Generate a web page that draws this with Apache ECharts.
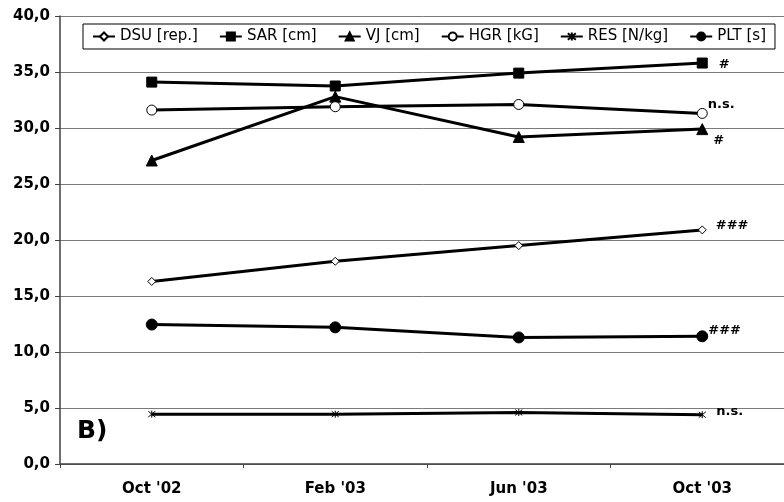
<!DOCTYPE html>
<html>
<head>
<meta charset="utf-8">
<script src="https://cdn.jsdelivr.net/npm/echarts@6/dist/echarts.min.js"></script>
<style>html,body{margin:0;padding:0;background:#fff}#c{width:784px;height:502px}</style>
</head>
<body>
<div id="c"></div>
<script>
var categories = ["Oct '02", "Feb '03", "Jun '03", "Oct '03"];
var dsu = [16.3, 18.1, 19.5, 20.9];
var sar = [34.1, 33.75, 34.9, 35.8];
var vj  = [27.1, 32.8, 29.2, 29.9];
var hgr = [31.6, 31.9, 32.1, 31.3];
var res = [4.45, 4.45, 4.6, 4.4];
var plt = [12.45, 12.2, 11.3, 11.4];
var seriesNames = ['DSU [rep.]', 'SAR [cm]', 'VJ [cm]', 'HGR [kG]', 'RES [N/kg]', 'PLT [s]'];
var significance = ['###', '#', '#', 'n.s.', 'n.s.', '###'];
var yTicks = [0, 5, 10, 15, 20, 25, 30, 35, 40];

var asterisk = 'path://M0,0L10,10M10,0L0,10M5,-1L5,11';
var values = [dsu, sar, vj, hgr, res, plt];
var symbols = ['diamond', 'rect', 'triangle', 'circle', asterisk, 'circle'];
var sizes = [8, 10, 11, 10, 7, 11];
var fills = ['#fff', '#000', '#000', '#fff', '#fff', '#000'];
var labelOffsets = [[4, -4], [6, 2], [0, 12], [-5, -9], [5, -3], [-5, -6]];

var chart = echarts.init(document.getElementById('c'), null, {renderer: 'canvas'});
var series = values.map(function (arr, i) {
  var data = arr.map(function (v, j) {
    if (j === arr.length - 1) {
      return {
        value: v,
        label: {
          show: true, position: 'right', formatter: significance[i],
          offset: labelOffsets[i], color: '#000', fontWeight: 'bold', fontSize: 13,
          fontFamily: 'DejaVu Sans'
        }
      };
    }
    return v;
  });
  return {
    name: seriesNames[i], type: 'line', data: data,
    symbol: symbols[i], symbolSize: sizes[i], showAllSymbol: true,
    lineStyle: {color: '#000', width: 3},
    itemStyle: {color: fills[i], borderColor: '#000', borderWidth: 1},
    emphasis: {disabled: true},
    animation: false, z: 3
  };
});

chart.setOption({
  animation: false,
  textStyle: {fontFamily: 'DejaVu Sans'},
  grid: {left: 60, top: 16, width: 734, height: 448, containLabel: false, outerBoundsMode: 'none'},
  legend: {
    data: seriesNames, left: 83, top: 24, padding: [5, 9, 5, 9],
    itemWidth: 22, itemHeight: 10, itemGap: 21,
    borderColor: '#000', borderWidth: 1, backgroundColor: '#fff',
    textStyle: {color: '#000', fontSize: 15, fontFamily: 'DejaVu Sans'}
  },
  xAxis: {
    type: 'category', data: categories, boundaryGap: true,
    axisLine: {lineStyle: {color: '#404040', width: 1.5}},
    axisTick: {show: true, length: 4, lineStyle: {color: '#404040'}},
    axisLabel: {color: '#000', fontWeight: 'bold', fontSize: 15, margin: 18, fontFamily: 'DejaVu Sans'},
    splitLine: {show: false}
  },
  yAxis: {
    type: 'value', min: yTicks[0], max: yTicks[yTicks.length - 1], interval: 5,
    axisLine: {show: true, lineStyle: {color: '#404040', width: 1.5}},
    axisTick: {show: true, inside: false, length: 5, lineStyle: {color: '#404040'}},
    axisLabel: {color: '#000', fontWeight: 'bold', fontSize: 15, margin: 10, fontFamily: 'DejaVu Sans',
      formatter: function (v) { return v.toFixed(1).replace('.', ','); }},
    splitLine: {show: true, lineStyle: {color: '#7a7a7a', width: 1}}
  },
  graphic: [{
    type: 'text', left: 77, top: 419,
    style: {text: 'B)', fill: '#000', font: 'bold 25px DejaVu Sans'}
  }],
  series: series
});
</script>
</body>
</html>
